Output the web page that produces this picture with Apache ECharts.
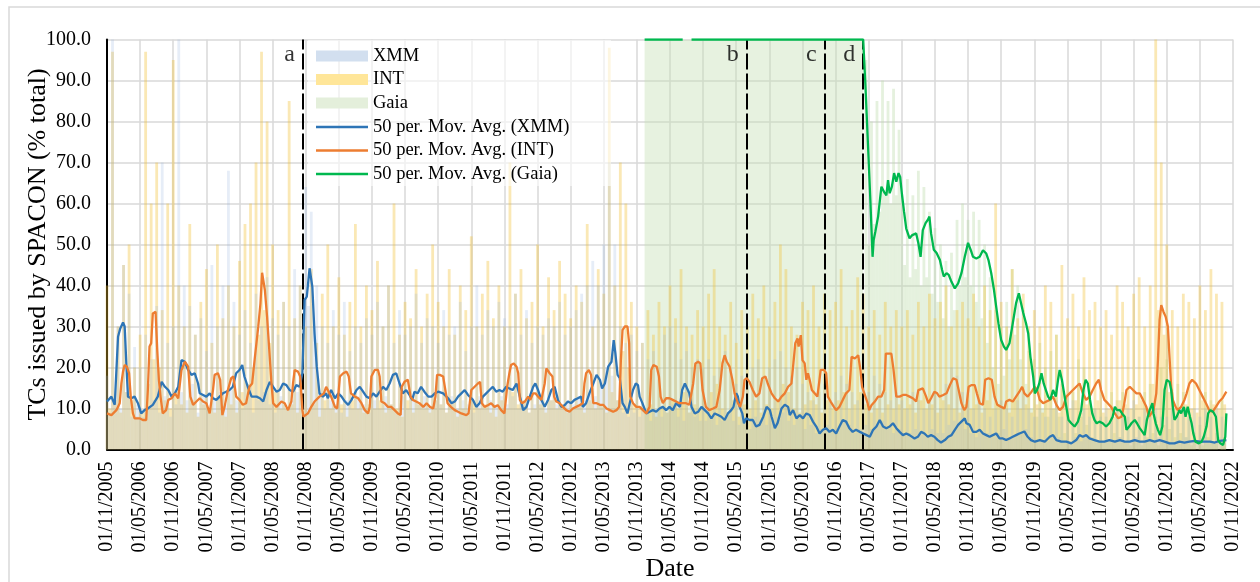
<!DOCTYPE html>
<html><head><meta charset="utf-8">
<script src="https://cdn.jsdelivr.net/npm/echarts@6/dist/echarts.min.js"></script>
<style>html,body{margin:0;padding:0;background:#fff}#c{width:1260px;height:582px}</style>
</head><body><div id="c"></div>
<script>
// x values are months since 01/11/2005
const tickLabels = ['01/11/2005','01/05/2006','01/11/2006','01/05/2007','01/11/2007','01/05/2008','01/11/2008','01/05/2009','01/11/2009','01/05/2010','01/11/2010','01/05/2011','01/11/2011','01/05/2012','01/11/2012','01/05/2013','01/11/2013','01/05/2014','01/11/2014','01/05/2015','01/11/2015','01/05/2016','01/11/2016','01/05/2017','01/11/2017','01/05/2018','01/11/2018','01/05/2019','01/11/2019','01/05/2020','01/11/2020','01/05/2021','01/11/2021','01/05/2022','01/11/2022'];
const yTicks = [0,10,20,30,40,50,60,70,80,90,100];
const eventLines = [{name:'a',month:35.5},{name:'b',month:115.9},{name:'c',month:130.0},{name:'d',month:137.0}];

// daily % bars, sampled every half month from month 0
const xmmBars = [18,9,100,12,30,10,45,14,38,8,25,11,20,8,28,10,22,12,35,9,70,13,26,8,
30,11,100,14,40,12,35,16,28,9,32,13,24,10,45,12,30,14,40,11,68,15,36,12,
28,10,34,13,26,9,38,12,30,14,42,11,32,9,28,13,36,10,30,12,44,14,40,15,
64,35,58,30,40,14,30,10,26,12,34,11,28,9,36,12,24,10,30,13,26,11,32,9,
28,12,36,10,30,13,40,11,26,9,34,13,28,10,30,12,38,11,26,13,32,10,30,12,
26,11,34,9,28,13,30,10,36,12,24,11,30,9,40,13,28,10,34,12,30,11,36,13,
32,11,30,13,38,10,28,12,34,9,26,11,30,13,28,10,32,12,30,11,36,10,28,12,
30,11,34,13,38,12,40,14,46,13,40,16,50,20,70,18,50,12,30,9,26,8,28,9,
24,8,26,9,22,7,24,10,20,8,28,9,30,11,26,8,22,7,24,9,20,8,22,7,
20,7,22,8,18,6,20,7,24,9,20,7,16,6,18,7,16,5,20,8,22,7,18,6,
20,7,22,8,24,9,20,7,18,6,20,8,16,5,14,6,12,4,14,5,16,6,12,5,
14,5,18,7,16,6,14,4,12,5,16,6,14,5,18,6,16,7,14,5,12,4,14,5,
12,4,10,4,14,5,12,4,10,3,12,5,14,4,10,4,16,6,20,7,18,6,14,5,
12,4,10,3,12,4,10,4,8,3,10,4,12,5,10,3,8,3,12,4,14,5,10,3,
8,2,10,2,8,2,10,3,12,3,8,2,10,2,12,3,8,2,10,3,8,2,10,2,
8,2,10,2,8,2,10,3,8,2,10,2,12,3,8,2,10,2,8,2,10,3,8,2,
8,2,10,2,8,2,10,3,8,2,10,2,8,2,10,2,8,2,10,3,8,2];
const intBars = [40,10,97,12,30,9,45,14,50,12,20,8,28,9,97,16,60,22,70,20,34,12,60,10,
95,14,40,11,30,9,55,12,28,8,36,11,44,10,26,9,50,13,32,8,40,11,30,9,
46,14,55,16,60,20,70,28,97,34,80,26,50,14,34,10,36,10,85,11,32,9,40,12,
30,9,44,11,26,8,38,12,50,10,30,9,42,11,28,8,36,12,55,10,30,9,40,11,
34,10,46,12,30,9,40,11,60,10,28,8,36,12,32,9,44,11,30,10,38,9,50,12,
36,11,30,9,44,12,28,8,40,10,34,9,52,12,30,10,38,11,46,9,32,8,40,12,
30,10,70,14,38,11,44,12,32,9,36,10,50,11,30,9,42,12,34,10,46,11,38,9,
32,10,40,11,36,9,55,12,30,10,44,11,38,9,98,14,40,12,70,24,60,20,36,11,
30,10,26,9,34,11,28,8,36,10,30,9,40,12,32,10,44,14,30,9,28,11,34,10,
30,9,38,14,44,16,30,10,28,9,36,12,26,8,34,11,30,10,38,12,32,9,40,11,
30,10,36,12,50,16,44,14,30,10,28,9,36,11,34,12,40,11,30,9,38,12,34,10,
36,12,44,14,30,10,34,11,42,14,38,11,30,9,34,10,28,9,36,11,30,10,34,11,
30,10,34,11,28,9,36,12,30,10,38,11,32,9,36,12,40,11,30,10,34,9,36,11,
32,10,38,11,30,9,40,12,34,10,60,11,36,10,30,9,44,12,32,10,38,11,30,9,
34,11,30,9,40,12,36,10,28,9,45,11,32,10,38,12,30,9,42,11,34,10,36,12,
30,9,34,10,28,8,40,12,36,11,30,10,38,11,42,12,30,10,40,16,100,34,70,28,
50,14,34,10,30,9,38,11,36,10,32,9,40,12,34,10,44,11,38,10,36,11];
const gaiaPlateau = [[97.4,100],[137.0,100]];
const gaiaBarsStart = 137.5;
const gaiaBars = [95,50,80,55,85,58,90,62,85,60,88,62,78,
62,45,66,42,62,44,68,40,64,42,58,38,
54,36,50,32,46,30,48,34,56,40,60,42,
56,40,58,36,56,32,50,26,42,20,34,16,
30,18,36,22,44,28,40,22,34,16,24,10,
22,8,26,10,20,8,24,10,28,8,16,4,
10,2,14,4,22,8,20,6,12,3,10,2,
10,2,8,2,14,4,12,3,14,2,8,1,
10,2,8,1,14,3,16,4,8,1,20,6,
22,5,14,3,16,4,14,3,8,1,4,0,
6,1,14,3,12,2,4,0,12,3];

// 50-period moving averages [month, %]
const xmmMA = [[0,11.7],[0.8,12.9],[1.4,10.9],[2.0,27.5],[2.4,29.5],[2.9,31.0],[3.2,30.0],[3.5,21.0],[3.8,12.9],[4.4,12.5],[5.0,12.9],[5.6,11.3],[6.2,8.8],[6.8,9.6],[7.4,10.0],[8.3,10.9],[9.2,12.9],[9.9,16.5],[10.5,15.3],[11.1,14.5],[11.7,12.9],[12.3,13.7],[12.9,15.3],[13.5,21.8],[14.1,21.4],[14.7,19.4],[15.3,18.2],[15.9,18.6],[16.5,16.1],[16.8,13.7],[17.4,13.3],[18.0,12.9],[18.6,13.7],[19.2,12.5],[19.8,12.1],[20.4,12.9],[21.0,13.7],[21.6,14.1],[22.2,14.5],[22.8,15.3],[23.4,18.6],[24.0,19.4],[24.5,20.6],[24.9,17.8],[25.5,15.3],[26.2,12.9],[27.1,12.9],[27.7,12.5],[28.3,11.7],[28.9,14.5],[29.5,16.5],[30.1,15.3],[30.7,14.1],[31.3,14.5],[31.9,16.1],[32.5,15.7],[33.1,14.5],[33.7,14.1],[34.3,15.7],[34.9,15.3],[35.4,18.6],[35.8,36.5],[36.2,37.3],[36.7,44.2],[37.2,39.7],[37.6,28.3],[38.0,20.2],[38.5,13.7],[39.1,12.9],[39.7,13.7],
[40.0,12.5],[40.6,14.5],[41.3,12.5],[41.9,13.7],[42.5,12.9],[43.1,11.7],[43.7,10.9],[44.3,12.1],[45.2,14.5],[45.8,15.3],[46.4,14.1],[47.0,12.9],[47.6,12.5],[48.2,13.7],[48.8,12.9],[49.4,14.1],[50.0,15.3],[50.6,14.5],[51.2,16.1],[51.8,18.2],[52.4,18.6],[53.0,16.1],[53.6,13.7],[54.2,14.5],[54.8,13.3],[55.3,12.1],[55.7,14.1],[56.3,13.7],[56.9,15.3],[57.5,14.1],[58.2,12.9],[58.8,12.9],[59.4,13.7],[60.0,14.1],[60.9,13.7],[61.8,12.5],[62.4,11.3],[63.0,11.7],[63.6,12.9],[64.2,13.7],[64.8,14.5],[65.4,13.3],[66.3,12.1],[66.9,10.4],[67.5,11.3],[68.1,12.9],[68.7,13.7],[69.3,14.5],[69.9,15.3],[70.5,14.1],[71.1,14.5],[71.7,14.1],[72.3,15.3],[72.9,14.9],[73.5,14.5],[74.2,16.1],[74.8,12.9],[75.4,9.6],[76.0,10.4],[76.6,12.9],[77.2,15.3],[77.6,16.1],[78.1,14.5],[78.7,12.1],[79.3,10.4],[79.9,12.1],[80.5,14.5],[81.1,15.3],
[81.7,12.1],[82.3,10.4],[82.9,10.8],[83.5,11.7],[84.1,11.3],[84.7,12.1],[85.3,12.5],[85.9,12.9],[86.2,10.4],[86.8,11.3],[87.4,13.7],[88.1,16.1],[88.7,18.2],[89.3,17.0],[89.7,14.9],[90.2,16.1],[90.8,20.2],[91.4,21.4],[91.8,26.7],[92.1,23.5],[92.5,18.2],[92.9,17.4],[93.4,11.3],[93.8,10.4],[94.3,8.8],[94.7,11.3],[95.3,14.5],[95.8,16.1],[96.2,15.7],[96.5,12.9],[97.0,11.3],[97.7,8.8],[98.3,9.2],[98.9,9.6],[99.5,9.2],[100.1,10.0],[100.7,10.4],[101.3,9.6],[101.9,10.4],[102.5,9.6],[103.1,11.3],[103.8,10.4],[104.2,14.5],[104.7,16.1],[105.1,14.9],[105.5,13.7],[105.9,10.4],[106.5,8.8],[107.1,9.2],[107.7,10.4],[108.3,9.6],[108.9,8.8],[109.5,7.6],[110.1,8.8],[110.7,8.4],[111.3,8.0],[111.9,7.2],[112.5,8.8],[113.1,9.6],[113.5,10.4],[114.0,13.7],[114.3,12.9],[114.6,10.4],[115.1,8.8],[115.4,6.4],[115.8,7.6],[116.4,7.2],[117.0,7.2],[117.6,5.6],[118.2,6.0],[118.9,8.0],[119.5,10.4],[120.1,9.6],[120.4,8.0],[121.0,5.2],[121.5,6.5],[122.2,10.0],[122.8,10.9],
[123.4,10.4],[123.7,8.4],[124.3,9.6],[124.9,7.6],[125.5,8.4],[126.1,7.6],[126.7,8.8],[127.3,8.4],[127.9,6.8],[128.5,5.6],[129.1,3.9],[129.7,4.8],[130.3,5.2],[130.9,4.3],[131.5,4.8],[132.1,3.9],[132.7,5.6],[133.3,7.2],[133.9,6.8],[134.5,5.2],[135.1,4.3],[135.7,4.8],[136.4,4.3],[137.0,3.9],[137.6,3.5],[138.2,3.1],[138.8,4.8],[139.4,5.6],[140.0,7.2],[140.6,5.6],[141.2,5.2],[141.8,5.6],[142.4,6.4],[143.0,5.2],[143.6,4.3],[144.2,3.5],[144.8,3.9],[145.4,3.5],[146.3,2.7],[146.9,3.1],[147.5,4.3],[148.1,3.9],[148.7,3.1],[149.3,3.5],[149.9,3.1],[150.5,2.3],[151.1,1.7],[151.8,2.3],[152.4,3.1],[153.0,3.5],[153.6,4.8],[154.2,6.0],[154.8,6.8],[155.4,7.6],[155.7,6.4],[156.3,6.0],[156.9,4.3],[157.5,4.3],[158.1,4.8],[158.7,3.9],[159.3,3.5],[159.9,3.1],[160.5,3.5],[161.1,3.9],[161.7,2.7],[162.3,2.7],[162.9,2.3],[163.5,2.7],[164.1,3.1],[164.7,3.5],[165.3,3.9],[166.2,4.4],[166.8,3.1],[167.4,2.3],[168.1,1.9],[169.0,2.3],[169.9,1.9],[170.8,3.1],[171.4,3.5],[172.0,2.3],[172.9,1.9],[173.8,1.9],[174.7,1.5],[175.6,2.3],[176.2,3.5],[176.8,3.1],[177.4,3.5],[178.0,2.7],[178.9,2.3],[179.8,1.9],[180.7,1.9],[181.6,2.3],[182.6,1.9],[183.5,2.3],[184.4,1.9],[185.3,1.9],[186.2,2.3],[187.1,1.9],[188.0,1.9],[188.9,2.3],[189.8,1.9],[190.7,2.3],[191.6,1.9],[192.5,1.5],[193.4,1.5],[194.3,1.9],[195.2,1.7],[196.1,1.9],[197.1,2.1],[198.0,1.9],[198.9,1.9],[199.8,1.9],[200.7,1.7],[201.6,2.1],[202.8,2.3]];
const intMA = [[0,8.8],[0.8,8.4],[1.7,9.6],[2.3,11.3],[2.6,16.1],[2.9,19.0],[3.2,20.6],[3.6,20.2],[4.0,18.6],[4.3,12.9],[4.7,8.8],[5.0,7.6],[5.9,7.6],[6.5,7.2],[7.1,7.2],[7.4,14.5],[7.7,25.1],[8.0,25.9],[8.3,33.2],[8.8,33.6],[9.1,24.3],[9.4,17.0],[9.7,12.9],[10.1,8.8],[10.7,9.6],[11.1,12.1],[11.7,12.5],[12.3,13.7],[12.9,12.5],[13.5,19.4],[14.1,21.4],[14.7,20.2],[15.1,12.9],[15.6,10.9],[16.2,11.7],[16.8,12.5],[17.4,11.7],[18.0,11.3],[18.6,8.8],[19.2,14.5],[19.5,18.2],[20.1,18.6],[20.5,17.0],[20.9,8.4],[21.3,10.4],[21.9,14.5],[22.5,17.4],[22.9,17.8],[23.4,12.9],[24.0,12.1],[24.6,10.9],[25.2,11.3],[25.8,15.3],[26.3,16.1],[26.8,22.6],[27.4,29.9],[27.8,35.6],[28.1,43.1],[28.6,38.9],[29.0,32.4],[29.4,24.3],[29.8,16.1],[30.1,11.3],[30.7,10.4],[31.6,11.7],[32.2,11.3],[32.8,9.6],[33.4,11.7],[33.7,16.1],[34.0,19.4],[34.6,19.0],[35.0,17.8],[35.4,9.6],[35.6,8.0],[36.4,8.8],[37.0,10.4],[37.6,11.7],[38.5,12.9],[39.3,13.7],[39.7,15.3],
[40.0,14.9],[40.6,12.9],[41.3,10.4],[41.7,10.0],[42.2,17.8],[42.8,18.6],[43.4,19.0],[43.8,17.8],[44.2,13.7],[44.9,12.9],[45.5,12.5],[46.1,11.3],[46.7,9.6],[47.3,8.8],[47.6,10.4],[47.9,17.8],[48.5,19.4],[49.1,19.4],[49.4,17.8],[49.7,11.7],[50.3,11.3],[50.9,10.4],[51.5,10.4],[52.1,9.6],[52.7,8.8],[53.2,8.4],[53.4,15.3],[53.9,16.5],[54.5,17.0],[55.0,12.9],[55.4,12.1],[56.0,11.7],[56.6,11.3],[57.3,10.4],[57.9,11.3],[58.5,10.4],[59.1,10.0],[59.5,12.9],[59.8,18.2],[60.3,18.2],[60.9,17.8],[61.2,15.3],[61.7,11.3],[62.3,10.4],[63.0,9.6],[63.6,9.2],[64.2,8.8],[65.1,8.4],[65.5,8.8],[66.0,14.5],[66.6,15.3],[67.2,16.1],[67.6,16.5],[67.9,11.3],[68.4,10.4],[69.0,10.8],[69.6,11.3],[70.2,10.4],[70.8,10.8],[71.4,9.6],[72.0,8.8],[72.5,15.3],[72.9,18.6],[73.2,20.6],[73.7,21.0],[74.2,20.2],[74.5,18.6],[74.8,12.1],[75.2,11.3],[75.7,11.7],[76.3,12.9],[76.7,12.1],[77.2,13.7],[77.6,13.7],[78.1,12.9],[78.7,12.1],[79.3,16.1],[79.6,19.8],[80.2,18.6],[80.7,17.8],[81.0,12.9],
[81.4,11.7],[82.0,11.3],[82.6,10.4],[83.2,9.6],[83.8,9.2],[84.4,10.0],[85.0,10.4],[85.6,10.8],[86.2,11.3],[86.5,16.1],[86.8,18.6],[87.3,19.4],[87.7,18.2],[88.1,11.3],[88.7,11.3],[89.3,10.9],[89.9,10.9],[90.5,10.0],[91.1,9.6],[91.7,9.2],[92.3,9.6],[92.8,10.4],[93.1,21.8],[93.4,29.1],[93.8,30.0],[94.3,30.0],[94.6,25.9],[94.8,12.9],[95.3,11.3],[95.9,10.4],[96.5,10.4],[97.1,9.6],[97.7,8.8],[98.3,10.4],[98.6,19.4],[99.0,20.6],[99.6,20.2],[100.0,17.8],[100.3,12.9],[100.7,11.3],[101.3,12.5],[101.9,12.5],[102.5,12.1],[103.1,11.7],[103.7,11.3],[104.3,11.3],[104.9,11.3],[105.5,10.9],[106.2,16.1],[106.6,21.0],[107.1,21.4],[107.5,21.0],[107.9,14.5],[108.5,10.4],[109.1,9.6],[109.8,10.0],[110.4,10.4],[111.0,14.5],[111.5,21.0],[111.9,23.0],[112.3,21.4],[112.8,20.2],[113.3,17.0],[113.7,13.7],[114.3,11.3],[114.7,10.4],[115.2,12.9],[115.5,17.0],[115.9,17.4],[116.4,16.5],[117.0,14.5],[117.6,12.9],[118.2,13.7],[118.7,17.4],[119.3,17.8],[119.7,16.1],[120.4,13.7],[121.0,12.5],
[121.6,11.7],[122.2,12.9],[122.8,13.7],[123.4,15.3],[124.0,16.1],[124.3,20.2],[124.7,25.9],[125.1,27.1],[125.3,25.1],[125.7,27.9],[126.0,21.8],[126.4,21.0],[126.7,17.0],[127.0,18.6],[127.3,17.0],[127.7,14.5],[128.2,13.7],[128.7,12.9],[129.0,16.1],[129.3,19.4],[129.9,19.4],[130.3,18.6],[130.6,12.9],[131.1,11.7],[131.7,10.4],[132.1,9.6],[132.7,10.4],[133.3,12.1],[133.9,13.7],[134.5,14.5],[134.9,22.6],[135.5,22.2],[136.1,23.0],[136.5,19.4],[136.8,15.3],[137.3,13.3],[137.8,11.3],[138.1,9.6],[138.5,10.8],[139.1,11.7],[139.7,12.9],[140.3,12.9],[140.8,14.5],[141.1,23.4],[141.5,23.4],[142.1,23.4],[142.5,19.4],[143.0,12.9],[143.6,12.9],[144.2,13.3],[144.8,13.3],[145.4,12.9],[146.0,12.5],[146.6,11.7],[147.0,14.5],[147.8,14.9],[148.4,12.9],[148.8,11.3],[149.3,12.5],[149.9,14.1],[150.4,13.7],[150.8,12.9],[151.5,13.3],[152.1,13.7],[152.7,15.7],[153.3,17.4],[153.9,17.0],[154.3,14.5],[154.8,11.3],[155.3,9.6],[155.7,10.4],[156.1,15.3],[156.6,15.7],[157.2,15.7],[157.6,13.7],[158.1,11.3],[158.7,10.9],[159.1,17.0],[159.7,17.4],[160.3,17.0],[160.8,12.9],[161.3,10.9],[162.0,10.4],[162.6,10.0],
[162.9,11.7],[163.5,12.1],[164.1,11.7],[164.7,12.9],[165.3,14.1],[165.8,15.3],[166.2,13.7],[166.8,12.9],[167.5,14.1],[168.1,15.3],[168.5,14.5],[169.0,12.1],[169.6,11.3],[170.2,11.7],[170.8,12.1],[171.4,12.9],[172.0,10.9],[172.6,9.6],[173.2,10.4],[173.8,12.9],[174.4,13.7],[175.0,14.5],[175.6,15.3],[176.2,16.1],[176.8,13.7],[177.4,12.1],[178.0,12.9],[178.6,14.5],[179.2,16.1],[179.7,17.0],[180.1,14.5],[180.7,12.1],[181.3,11.3],[181.9,10.4],[182.6,8.8],[183.2,7.6],[183.8,8.0],[184.2,10.4],[184.7,14.5],[185.3,15.3],[185.9,14.5],[186.5,13.7],[187.1,13.7],[187.7,12.1],[188.3,10.4],[188.8,8.0],[189.2,8.8],[189.6,9.6],[190.1,13.7],[190.4,21.8],[190.7,31.6],[191.0,35.2],[191.4,33.6],[191.8,32.4],[192.2,30.0],[192.5,22.6],[192.8,15.3],[193.1,12.1],[193.6,10.4],[194.0,9.6],[194.6,10.4],[195.2,12.1],[195.6,13.7],[196.1,16.1],[196.6,17.0],[197.3,16.1],[197.9,14.5],[198.5,12.9],[199.1,11.3],[199.7,9.6],[200.3,9.2],[200.9,10.4],[201.5,11.7],[202.1,12.5],[202.8,14.1]];
const gaiaMA = [[97.4,100],[104.3,100],[105.0,null],[105.9,100],[137.0,100],[137.4,89.0],[138.3,60.8],[138.7,47.0],[138.9,51.1],[139.2,53.1],[139.7,56.8],[140.3,64.1],[140.8,62.8],[141.2,62.0],[141.5,65.7],[141.8,62.5],[142.2,64.1],[142.6,67.4],[143.0,65.3],[143.4,67.4],[143.7,66.5],[144.0,62.5],[144.4,58.0],[144.8,53.9],[145.4,51.5],[145.9,52.3],[146.2,51.9],[146.6,52.7],[147.0,50.3],[147.4,47.0],[147.8,53.5],[148.3,55.2],[148.7,56.0],[149.0,56.8],[149.3,52.7],[149.8,48.7],[150.3,47.9],[150.9,46.2],[151.3,43.8],[151.6,42.2],[152.1,43.0],[152.5,42.6],[153.0,40.9],[153.6,39.3],[154.2,40.5],[154.8,43.0],[155.4,47.0],[156.0,50.4],[156.5,48.6],[156.9,47.0],[157.5,46.6],[158.1,47.0],[158.7,48.6],[159.3,47.8],[159.7,46.2],[160.2,43.0],[160.7,38.9],[161.1,34.8],[161.5,30.8],[162.0,26.7],[162.5,25.1],[162.9,24.3],[163.5,25.9],[164.1,30.8],[164.7,35.7],[165.2,38.1],[165.6,35.7],[166.0,33.3],[166.5,30.8],[166.9,28.3],[167.3,22.6],[167.8,17.8],[168.1,13.7],[168.5,14.5],[168.9,16.1],[169.3,18.6],[169.7,16.1],[170.1,14.5],[170.5,12.9],[170.9,12.1],[171.4,14.5],[171.9,12.9],[172.3,17.0],[172.6,19.4],[173.0,17.0],[173.3,14.5],[173.8,10.4],[174.2,7.2],[174.7,6.4],[175.3,5.6],[175.9,6.8],[176.5,9.6],[176.9,14.5],[177.3,17.0],[177.7,16.1],[178.1,12.1],[178.5,8.8],[178.9,7.2],[179.3,6.4],[179.8,6.8],[180.4,6.4],[181.0,5.6],[181.6,6.4],[182.2,8.0],[182.6,10.4],[183.0,9.6],[183.5,9.6],[183.9,8.8],[184.4,8.0],[184.7,4.8],[185.2,5.6],[185.6,6.4],[186.2,7.2],[186.6,6.4],[187.1,5.2],[187.6,4.3],[188.0,3.5],[188.4,7.2],[188.9,9.6],[189.4,11.3],[189.6,8.8],[190.0,6.4],[190.4,4.8],[190.8,3.5],[191.2,5.6],[191.6,14.5],[192.0,17.0],[192.5,16.5],[192.8,14.5],[193.1,10.4],[193.4,7.2],[193.8,8.0],[194.3,9.6],[194.6,8.8],[195.1,10.4],[195.4,8.0],[195.8,10.4],[196.2,8.0],[196.5,6.4],[196.8,4.0],[197.2,1.9],[197.8,1.5],[198.3,1.9],[198.7,3.1],[199.2,5.6],[199.5,8.8],[199.9,9.6],[200.4,9.2],[200.9,8.0],[201.3,2.3],[201.7,1.5],[202.2,1.1],[202.6,3.1],[202.8,8.8]];

const FONT = '"Liberation Serif","Times New Roman",serif';
const halfMonth = (arr, start) => arr.map((v, i) => [start + i * 0.5, v]);

const chart = echarts.init(document.getElementById('c'), null, {renderer: 'canvas'});
const barSeries = (name, data, color) => ({
  name, type: 'bar', data, barWidth: 2.8, barGap: '-100%', z: 1, silent: true,
  itemStyle: {color}, emphasis: {disabled: true}
});
const maSeries = (name, data, color) => ({
  name, type: 'line', data, symbol: 'none', showSymbol: false, z: 5, color,
  lineStyle: {width: 2.3, color}, connectNulls: false, emphasis: {disabled: true}, silent: true
});

chart.setOption({
  animation: false,
  backgroundColor: '#ffffff',
  grid: {left: 107, right: 27, top: 39.5, bottom: 132.5, containLabel: false, outerBoundsMode: 'none'},
  xAxis: {
    type: 'value', min: 0, max: 204, interval: 6,
    name: 'Date', nameLocation: 'middle', nameGap: 107, nameMoveOverlap: false,
    nameTextStyle: {fontFamily: FONT, fontSize: 26, color: '#000'},
    axisLine: {show: true, onZero: false, lineStyle: {color: '#000', width: 2}},
    axisTick: {show: false},
    axisLabel: {rotate: 90, margin: 12, fontFamily: FONT, fontSize: 20, color: '#000',
      showMinLabel: true, showMaxLabel: true,
      formatter: v => tickLabels[Math.round(v / 6)] || ''},
    splitLine: {show: true, lineStyle: {color: '#d9d9d9', width: 1.5}}
  },
  yAxis: {
    type: 'value', min: yTicks[0], max: yTicks[yTicks.length - 1], interval: 10,
    name: 'TCs issued by SPACON (% total)', nameLocation: 'middle', nameGap: 56, nameMoveOverlap: false,
    nameTextStyle: {fontFamily: FONT, fontSize: 26, color: '#000'},
    axisLine: {show: true, lineStyle: {color: '#000', width: 2}},
    axisTick: {show: false},
    axisLabel: {fontFamily: FONT, fontSize: 20, color: '#000', margin: 16, formatter: v => v.toFixed(1)},
    splitLine: {show: true, lineStyle: {color: '#d9d9d9', width: 1.5}}
  },
  legend: [{
    data: [{name: 'XMM', itemStyle: {color: '#d2dfef'}}, {name: 'INT', itemStyle: {color: '#ffe699'}}, {name: 'Gaia', itemStyle: {color: '#e4efdb'}}],
    orient: 'vertical', left: 316, top: 46, padding: 0,
    icon: 'rect', itemWidth: 52, itemHeight: 11, itemGap: 3.5,
    textStyle: {fontFamily: FONT, fontSize: 18.5, color: '#000', lineHeight: 20},
    selectedMode: false, z: 6
  }, {
    data: ['50 per. Mov. Avg. (XMM)', '50 per. Mov. Avg. (INT)', '50 per. Mov. Avg. (Gaia)'],
    orient: 'vertical', left: 316, top: 117, padding: 0,
    icon: 'rect', itemWidth: 52, itemHeight: 2.5, itemGap: 3.5,
    textStyle: {fontFamily: FONT, fontSize: 18.5, color: '#000', lineHeight: 20},
    selectedMode: false, z: 6
  }],
  graphic: {elements: [
    {type: 'rect', z: 4, silent: true, shape: {x: 308, y: 40, width: 303, height: 146},
      style: {fill: 'rgba(255,255,255,0.6)'}},
    {type: 'rect', z: 0, silent: true, shape: {x: 9, y: 7, width: 1262, height: 600},
      style: {fill: 'none', stroke: '#d9d9d9', lineWidth: 1.5}}
  ]},
  series: [
    {name: 'Gaia', type: 'line', data: gaiaPlateau, symbol: 'none', showSymbol: false, z: 1, silent: true,
      lineStyle: {width: 0}, areaStyle: {color: 'rgba(197,224,180,0.42)', opacity: 1}, color: '#e4efdb',
      emphasis: {disabled: true}},
    barSeries('Gaia', halfMonth(gaiaBars, gaiaBarsStart), 'rgba(190,220,172,0.4)'),
    barSeries('INT', halfMonth(intBars, 0), 'rgba(240,190,50,0.36)'),
    barSeries('XMM', halfMonth(xmmBars, 0), 'rgba(140,175,220,0.22)'),
    maSeries('50 per. Mov. Avg. (XMM)', xmmMA, '#2e75b6'),
    maSeries('50 per. Mov. Avg. (INT)', intMA, '#ed7d31'),
    maSeries('50 per. Mov. Avg. (Gaia)', gaiaMA, '#00b84f'),
    {
      name: 'events', type: 'scatter', z: 6, symbolSize: 0, silent: true,
      data: eventLines.map(e => [e.month, 96.2, e.name]),
      label: {show: true, position: 'left', distance: 8, formatter: p => p.data[2],
        fontFamily: FONT, fontSize: 24, color: '#000'},
      markLine: {
        silent: true, symbol: ['none', 'none'], label: {show: false},
        lineStyle: {color: '#000', type: [16, 4], width: 2},
        data: eventLines.map(e => ({xAxis: e.month}))
      }
    }
  ]
});
</script>
</body></html>
